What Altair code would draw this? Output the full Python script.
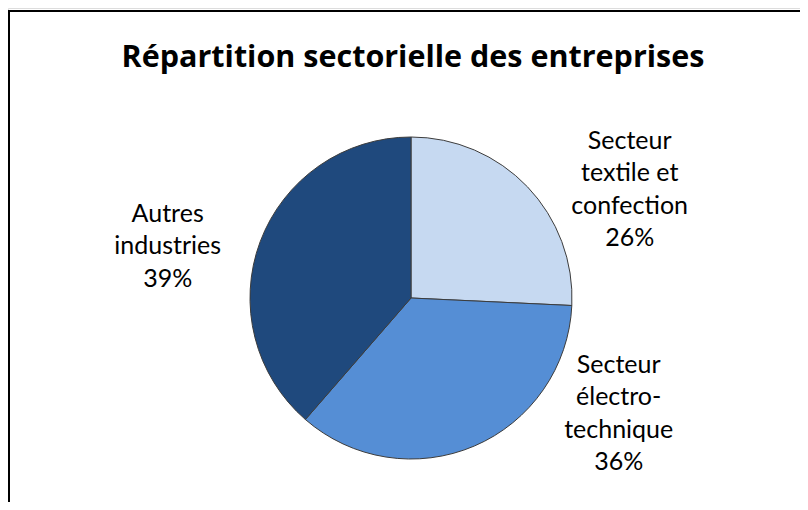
import altair as alt
import pandas as pd

# ---- data ----
categories = ["Secteur textile et confection", "Secteur électro-technique", "Autres industries"]
labels = ["Secteur\ntextile et\nconfection\n26%", "Secteur\nélectro-\ntechnique\n36%", "Autres\nindustries\n39%"]
shares = [26, 36, 39]
order_idx = [0, 1, 2]
colors = ["#C6D9F1", "#558ED5", "#1F497D"]

df = pd.DataFrame({"cat": categories, "label": labels, "share": shares, "idx": order_idx})

FONT = "Lato"
CX, CY, R = 403, 290, 161

pie = alt.Chart(df).mark_arc(radius=R, stroke="#3c3c3c", strokeWidth=1).encode(
    theta=alt.Theta("share:Q", stack=True),
    order=alt.Order("idx:Q"),
    color=alt.Color("cat:N", scale=alt.Scale(domain=categories, range=colors), legend=None),
    x=alt.value(CX),
    y=alt.value(CY),
)

# label offsets (style) per category
offsets = {0: (74, -19), 1: (129, -117), 2: (-56, -14)}


def label_layer(i):
    dx, dy = offsets[i]
    return (
        alt.Chart(df)
        .transform_window(cum="sum(share)", sort=[alt.SortField("idx")])
        .transform_joinaggregate(total="sum(share)")
        .transform_calculate(mid="(datum.cum - datum.share/2) / datum.total * 2 * PI")
        .transform_filter(alt.datum.idx == i)
        .mark_text(
            radius=200, font=FONT, fontSize=25, lineHeight=32.5, lineBreak="\n",
            align="center", baseline="middle", color="#000000", dx=dx, dy=dy,
        )
        .encode(
            theta=alt.Theta("mid:Q", scale=None),
            text="label:N",
            x=alt.value(CX),
            y=alt.value(CY),
        )
    )


frame_top = alt.Chart(df).mark_rule(color="#000000", strokeWidth=2).encode(
    x=alt.value(0), x2=alt.value(800), y=alt.value(3)
)
frame_left = alt.Chart(df).mark_rule(color="#000000", strokeWidth=2).encode(
    x=alt.value(1), y=alt.value(2), y2=alt.value(600)
)

chart = alt.layer(
    frame_top, frame_left, pie, label_layer(0), label_layer(1), label_layer(2)
).properties(
    width=792,
    height=494,
    autosize=alt.AutoSizeParams(type="none"),
    padding=0,
    title=alt.TitleParams(
        "Répartition sectorielle des entreprises",
        font="Open Sans", fontSize=30.5, fontWeight="bold", color="#000000",
        anchor="middle", frame="group", orient="top", offset=0,
        baseline="alphabetic", dy=89, dx=9,
    ),
).configure_view(stroke=None).configure(background="white")

chart.save("out.html", embed_options={"renderer": "svg", "actions": False})
